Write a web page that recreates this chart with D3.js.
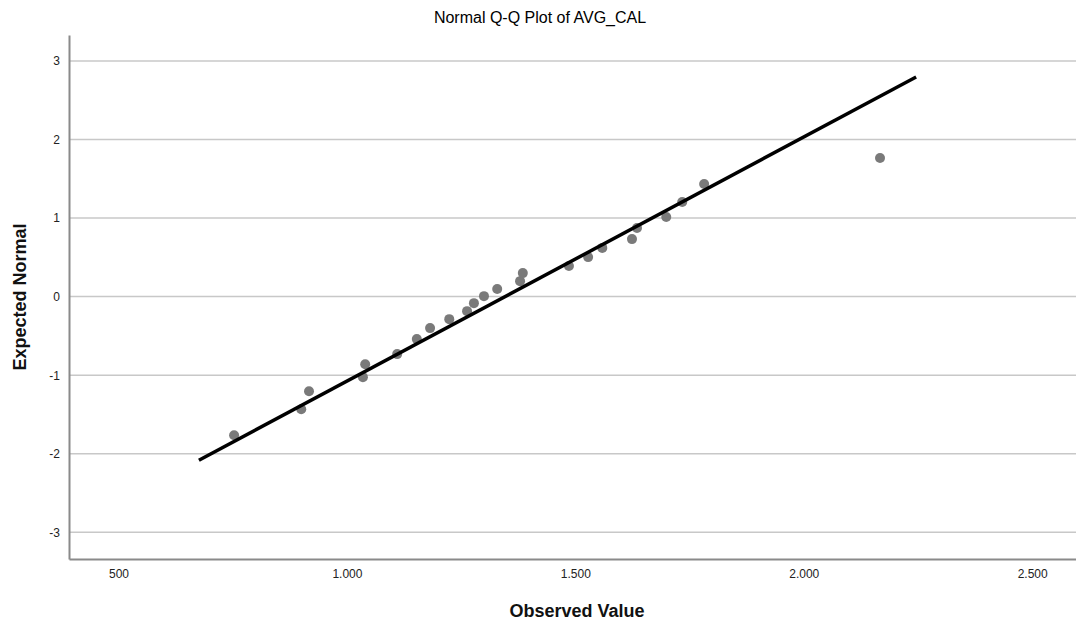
<!DOCTYPE html>
<html>
<head>
<meta charset="utf-8">
<script src="https://cdn.jsdelivr.net/npm/d3@7"></script>
<style>
  body { margin: 0; background: #fff; }
  svg { font-family: "Liberation Sans", Arial, sans-serif; display: block; }
</style>
</head>
<body>
<svg width="1076" height="626"></svg>
<script>
const observed = [753, 900, 917, 1035, 1040, 1110, 1153, 1182, 1224, 1263, 1278, 1300,
                  1329, 1379, 1385, 1486, 1528, 1559, 1624, 1635, 1699, 1734, 1782, 2167];
const expected = [-1.764, -1.433, -1.204, -1.025, -0.86, -0.732, -0.541, -0.401, -0.287,
                  -0.185, -0.083, 0.006, 0.096, 0.197, 0.299, 0.389, 0.503, 0.62, 0.732,
                  0.873, 1.013, 1.204, 1.433, 1.764];
// reference line endpoints
const lineX = [676, 2246];
const lineY = [-2.083, 2.796];

const xTicks = [500, 1000, 1500, 2000, 2500];
const yTicks = [-3, -2, -1, 0, 1, 2, 3];

const svg = d3.select('svg');
const margin = { top: 35, right: 0, bottom: 67, left: 69 };
const width = 1076, height = 626;

const xScale = d3.scaleLinear()
  .domain([391.6, 2596])
  .range([margin.left, width - margin.right]);
const yScale = d3.scaleLinear()
  .domain([-3.34, 3.33])
  .range([height - margin.bottom, margin.top]);

const fmt = d => d3.format(',')(d).replace(',', '.');

// horizontal grid lines
svg.append('g')
  .selectAll('line').data(yTicks)
  .enter().append('line')
    .attr('x1', margin.left)
    .attr('x2', width)
    .attr('y1', d => yScale(d))
    .attr('y2', d => yScale(d))
    .attr('stroke', '#c8c8c8')
    .attr('stroke-width', 1.5);

// axes
const yAxis = d3.axisLeft(yScale).tickValues(yTicks).tickSize(0).tickPadding(9)
  .tickFormat(d => String(d));
const xAxis = d3.axisBottom(xScale).tickValues(xTicks).tickSize(0).tickPadding(10).tickFormat(fmt);

const yG = svg.append('g')
  .attr('transform', `translate(${margin.left},0)`)
  .call(yAxis);
const xG = svg.append('g')
  .attr('transform', `translate(0,${height - margin.bottom})`)
  .call(xAxis);

[xG, yG].forEach(g => {
  g.select('.domain').attr('stroke', '#8a8a8a').attr('stroke-width', 2);
  g.selectAll('text').attr('fill', '#222').style('font-size', '12px');
});

// points
svg.append('g')
  .selectAll('circle').data(observed)
  .enter().append('circle')
    .attr('cx', d => xScale(d))
    .attr('cy', (d, i) => yScale(expected[i]))
    .attr('r', 5)
    .attr('fill', '#7a7a7a');

// reference line
svg.append('line')
  .attr('x1', xScale(lineX[0]))
  .attr('y1', yScale(lineY[0]))
  .attr('x2', xScale(lineX[1]))
  .attr('y2', yScale(lineY[1]))
  .attr('stroke', '#000')
  .attr('stroke-width', 3.5);

// titles
svg.append('text')
  .attr('x', 540)
  .attr('y', 23)
  .attr('text-anchor', 'middle')
  .style('font-size', '16px')
  .attr('fill', '#000')
  .text('Normal Q-Q Plot of AVG_CAL');

svg.append('text')
  .attr('x', 577)
  .attr('y', 617)
  .attr('text-anchor', 'middle')
  .style('font-size', '18px')
  .style('font-weight', 'bold')
  .attr('fill', '#111')
  .text('Observed Value');

svg.append('text')
  .attr('transform', 'translate(26,297) rotate(-90)')
  .attr('text-anchor', 'middle')
  .style('font-size', '18px')
  .style('font-weight', 'bold')
  .attr('fill', '#111')
  .text('Expected Normal');
</script>
</body>
</html>
